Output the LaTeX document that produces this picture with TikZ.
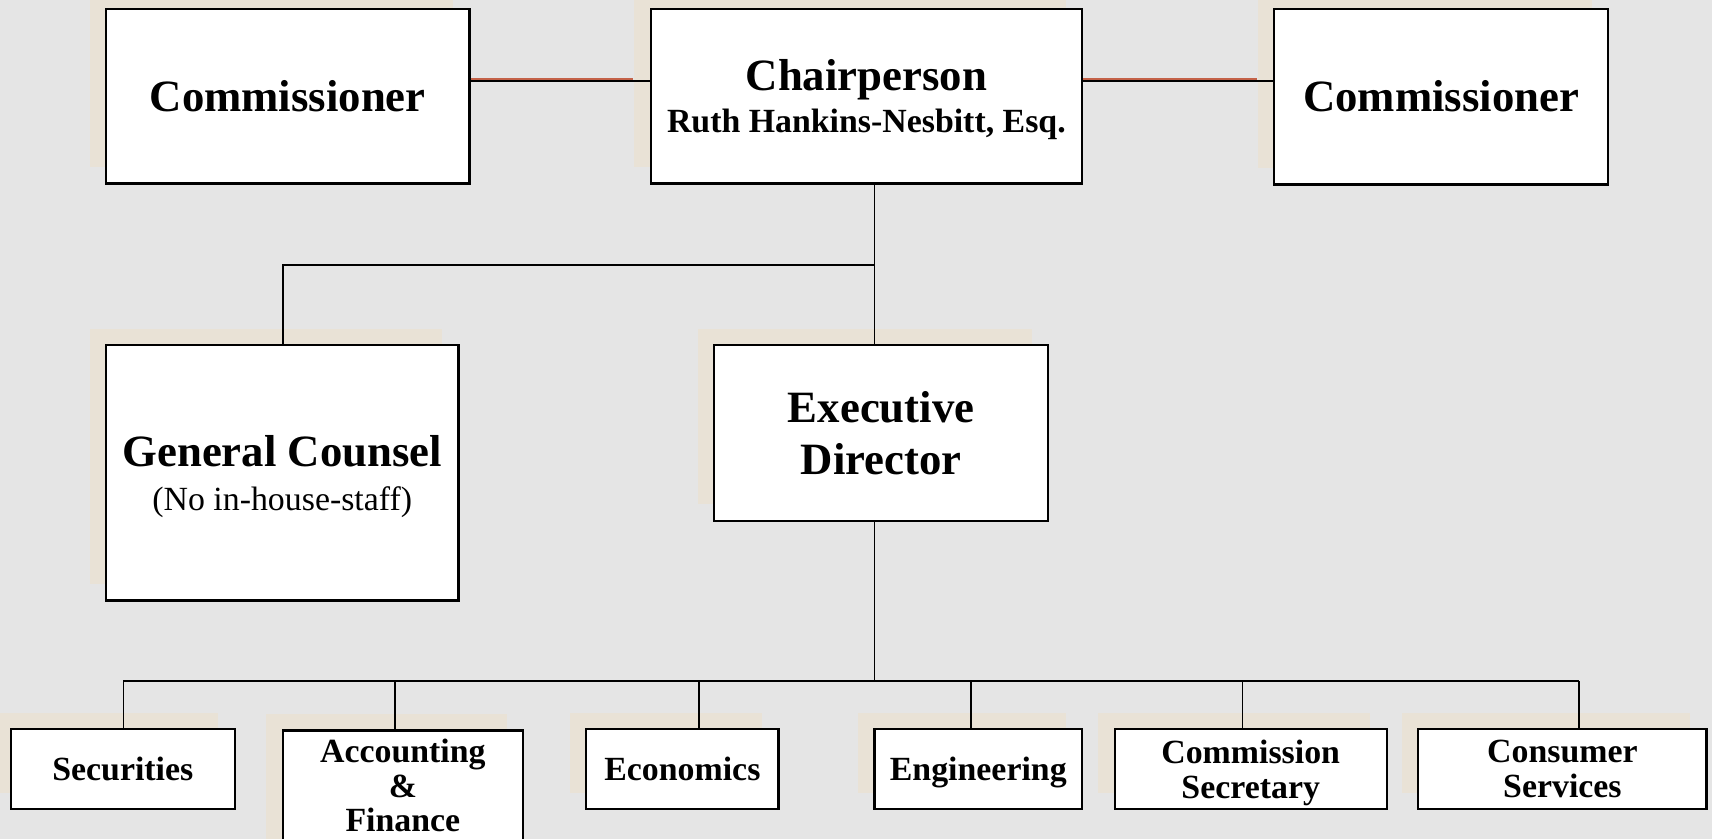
\documentclass[tikz,border=0pt]{standalone}
\usepackage{fontspec}
\setmainfont{Liberation Serif}
\usetikzlibrary{shadows}
\definecolor{bgc}{RGB}{229,229,229}
\definecolor{shc}{RGB}{233,226,214}
\definecolor{redl}{RGB}{196,98,72}
\begin{document}
\begin{tikzpicture}[x=1pt,y=-1pt,
  orgbox/.style={draw=black, line width=2pt, fill=white, inner sep=0pt, align=center,
    drop shadow={shadow xshift=-15pt, shadow yshift=15pt, fill=shc, opacity=1}},
  big/.style={font=\fontsize{41}{48}\selectfont\bfseries},
  small/.style={font=\fontsize{31}{32}\selectfont\bfseries},
  conn/.style={draw=black, line width=1.6pt},
  redconn/.style={draw=redl, line width=1.6pt}]
\fill[bgc] (0,0) rectangle (1568,768);
\useasboundingbox (0,0) rectangle (1568,768);

% top row
\node[orgbox, big, minimum width=333pt, minimum height=160pt] (commL) at (263.5,88) {Commissioner};
\node[orgbox, minimum width=395pt, minimum height=160pt, text height=73pt,
  font=\fontsize{31}{38}\selectfont\bfseries] (chair) at (793.5,88)
  {{\fontsize{41}{38}\selectfont Chairperson}\\Ruth Hankins-Nesbitt, Esq.};
\node[orgbox, big, minimum width=306pt, minimum height=161pt] (commR) at (1320,88.5) {Commissioner};

% middle row
\node[orgbox, minimum width=323pt, minimum height=234pt, text height=76pt,
  font=\fontsize{31}{40}\selectfont] (gc) at (258.5,433)
  {{\fontsize{41}{40}\selectfont\bfseries General Counsel}\\(No in-house-staff)};
\node[orgbox, big, minimum width=306pt, minimum height=161pt] (exec) at (807,396.5) {Executive\\Director};

% bottom row
\node[orgbox, small, minimum width=205pt, minimum height=73pt, text depth=0pt] (sec) at (112.5,704.5) {Securities};
\node[orgbox, anchor=north, minimum width=220pt, inner ysep=8pt, text depth=22pt,
  font=\fontsize{31}{31.5}\selectfont\bfseries] (acc) at (369,668) {Accounting\\\&\\Finance};
\node[orgbox, small, minimum width=176pt, minimum height=73pt, text depth=0pt] (eco) at (625,704.5) {Economics};
\node[orgbox, small, minimum width=190pt, minimum height=73pt, text depth=0pt] (eng) at (896,704.5) {Engineering};
\node[orgbox, small, minimum width=249pt, minimum height=73pt, text depth=0pt] (csec) at (1145.5,704.5) {Commission\\Secretary};
\node[orgbox, small, minimum width=264pt, minimum height=73pt, text depth=0pt] (cons) at (1431,704.5) {Consumer\\Services};

% junction coordinates
\coordinate (hb) at (700,74);
\coordinate (hr) at (700,72.4);
\coordinate (j1) at (801,243);
\coordinate (j0) at (259,243);
\coordinate (b0) at (801,624);
\coordinate (d1) at (113,624);
\coordinate (d2) at (362,624);
\coordinate (d3) at (640,624);
\coordinate (d4) at (889,624);
\coordinate (d5) at (1138,624);
\coordinate (d6) at (1446,624);

% top connectors (red accent under the shadow, black on top)
\draw[redconn] (hr -| commL.east) -- ([xshift=-15pt]hr -| chair.west);
\draw[redconn] (hr -| chair.east) -- ([xshift=-15pt]hr -| commR.west);
\draw[conn] (hb -| commL.east) -- (hb -| chair.west);
\draw[conn] (hb -| chair.east) -- (hb -| commR.west);

% chair to general counsel and executive director
\draw[conn] (j1 |- chair.south) -- (j1 |- exec.north);
\draw[conn] (j1) -- (j0) -- (j0 |- gc.north);

% executive director to departments
\draw[conn] (b0 |- exec.south) -- (b0);
\draw[conn] (d1) -- (d6);
\draw[conn] (d1) -- (d1 |- sec.north);
\draw[conn] (d2) -- (d2 |- acc.north);
\draw[conn] (d3) -- (d3 |- eco.north);
\draw[conn] (d4) -- (d4 |- eng.north);
\draw[conn] (d5) -- (d5 |- csec.north);
\draw[conn] (d6) -- (d6 |- cons.north);
\end{tikzpicture}
\end{document}
